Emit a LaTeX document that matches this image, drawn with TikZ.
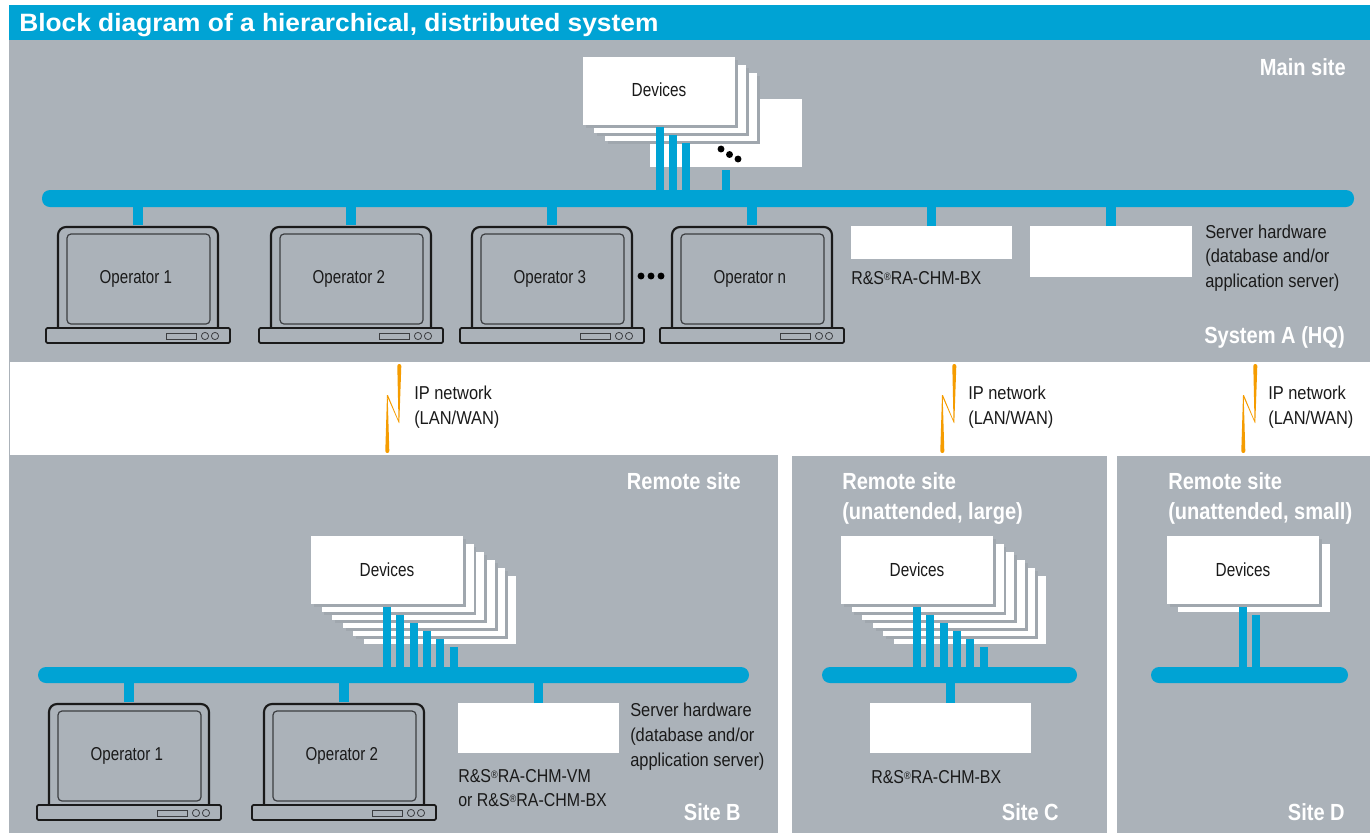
\documentclass[tikz,border=0pt]{standalone}
\usepackage{fontspec}
\setmainfont{Liberation Sans}
\newfontfamily\opf[FakeStretch=0.81]{Liberation Sans}
\newfontfamily\labf[FakeStretch=0.88]{Liberation Sans}
\newfontfamily\chmf[FakeStretch=0.855]{Liberation Sans}
\newfontfamily\boldf[FakeStretch=0.86]{Liberation Sans}
\newfontfamily\titlef[FakeStretch=1.05]{Liberation Sans}
\definecolor{sitegrey}{HTML}{ABB2B9}
\definecolor{cardshade}{HTML}{A0A7AE}
\definecolor{rsblue}{HTML}{00A3D4}
\definecolor{bolt}{HTML}{F59C00}
\definecolor{ink}{HTML}{1A1A1A}
\newcommand{\regd}{{\fontsize{8}{8}\selectfont\raisebox{3pt}{®}}}
\tikzset{
  x=0.75pt,y=-0.75pt,
  sized/.style 2 args={minimum width=#1*0.75pt,minimum height=#2*0.75pt,inner sep=0pt,outer sep=0pt},
  site/.style={fill=sitegrey,draw=none,anchor=north west},
  card/.style={fill=white,draw=none,anchor=north west,sized={152}{68}},
  devtext/.style={text=ink,inner sep=0pt,font=\opf\fontsize{14.2}{17}\selectfont},
  whitebox/.style={fill=white,draw=none,anchor=north west},
  bus/.style={fill=rsblue,draw=none,rounded corners=6pt,anchor=north west},
  bar/.style={draw=rsblue,line width=6pt},
  stub/.style={draw=rsblue,line width=6.8pt,shorten <=1.2pt},
  lid/.style={anchor=north west,sized={160}{101}},
  lidline/.style={draw=ink,line width=1.6pt,rounded corners=6pt},
  screen/.style={anchor=north west,sized={143}{90},text=ink,font=\opf\fontsize{14}{17}\selectfont},
  screenline/.style={draw=black!65!sitegrey,line width=0.9pt,rounded corners=3pt},
  lbase/.style={draw=ink,line width=1.3pt,rounded corners=1pt,anchor=north west,sized={184}{15}},
  ldetail/.style={draw=black!65!sitegrey,line width=0.6pt},
  lab/.style={text=ink,anchor=west,align=left,inner sep=0pt,font=\labf\fontsize{14}{18.5}\selectfont},
  chmlab/.style={text=ink,anchor=west,align=left,inner sep=0pt,font=\chmf\fontsize{14}{18.5}\selectfont},
  sitelab/.style={text=white,inner sep=0pt,align=left,font=\boldf\bfseries\fontsize{17.5}{22.5}\selectfont},
  dot/.style={fill=black,draw=none,circle,minimum size=5.2pt,inner sep=0pt},
  boltfill/.style={fill=bolt,draw=none}
}
\newcommand{\laptop}[4]{%
  \node[lid] (#1) at (#2,#3) {};
  \node[lbase] (#1base) at ($(#2,#3)+(-12,101)$) {};
  \draw[lidline] (#1.south west) -- (#1.north west) -- (#1.north east) -- (#1.south east);
  \node[screen] (#1scr) at ($(#2,#3)+(9,7)$) {\hspace*{-4pt}#4};
  \draw[screenline] (#1scr.south west) -- (#1scr.north west) -- (#1scr.north east) -- (#1scr.south east) -- cycle;
  \draw[ldetail] ($(#2,#3)+(108,106)$) rectangle ($(#2,#3)+(138,112)$);
  \draw[ldetail] ($(#2,#3)+(147,109)$) circle (2.7pt);
  \draw[ldetail] ($(#2,#3)+(157,109)$) circle (2.7pt);
}
\newcommand{\backcard}[3]{%
  \fill[cardshade] ($(#2,#3)+(2.7,2.7)$) rectangle ($(#2,#3)+(154.7,70.7)$);
  \node[card] (#1) at (#2,#3) {};
}
\newcommand{\devbolt}[1]{%
  \fill[boltfill] (#1+10,366) arc[start angle=180,end angle=0,radius=1.5pt] -- (#1+12,423) -- (#1+11.6,423) -- (#1+0.4,397.5) -- (#1+2,451) arc[start angle=0,end angle=-180,radius=1.5pt] -- (#1-0.3,395) -- (#1+0.6,395) -- (#1+11.2,420.5) -- cycle;
}
\usetikzlibrary{calc}
\begin{document}
\begin{tikzpicture}
\useasboundingbox (0,0) rectangle (1370,833);
\fill[white] (0,0) rectangle (1370,833);
% panels
\node[site,sized={1361}{322}] (siteA) at (9,40) {};
\node[site,sized={769}{378}] (siteB) at (9,455) {};
\node[site,sized={315}{377}] (siteC) at (792,456) {};
\node[site,sized={253}{377}] (siteD) at (1117,456) {};
\draw[sitegrey,line width=0.6pt] (siteA.south west) -- (siteB.north west);
\node[fill=rsblue,anchor=north west,sized={1361}{35}] (head) at (9,5) {};
\node[anchor=base west,inner sep=0pt,text=white,font=\titlef\bfseries\fontsize{18.8}{22}\selectfont] (title) at (19,31) {Block diagram of a hierarchical, distributed system};

% buses
\node[bus,sized={1312}{17}] (busA) at (42,190) {};
\node[bus,sized={711}{16}] (busB) at (38,667) {};
\node[bus,sized={255}{16}] (busC) at (822,667) {};
\node[bus,sized={197}{16}] (busD) at (1151,667) {};

% System A devices
\node[card] (a4) at (650,99) {};
\backcard{a3}{605}{73}
\backcard{a2}{594}{65}
\backcard{a1}{583}{57}
\node[devtext] (a1text) at (659,90) {Devices};
\node[dot] (ad1) at (721,149) {};
\node[dot] (ad2) at (729.5,154.5) {};
\node[dot] (ad3) at (738,159) {};
\coordinate (ab1) at (659.5,127); \coordinate (ab2) at (672.5,135);
\coordinate (ab3) at (686,143); \coordinate (ab4) at (726,170);
\foreach \n in {ab1,ab2,ab3,ab4} \draw[bar] (\n) -- (\n |- busA);

% System A laptops
\laptop{op1}{58}{227}{Operator 1}
\laptop{op2}{271}{227}{Operator 2}
\laptop{op3}{472}{227}{Operator 3}
\laptop{opn}{672}{227}{Operator n}
\foreach \n in {op1,op2,op3,opn} \draw[stub] (\n.north) -- (\n.north |- busA);
\node[dot] (od1) at (641,276) {};
\node[dot] (od2) at (651,276) {};
\node[dot] (od3) at (661,276) {};

% System A servers
\node[whitebox,sized={161}{33}] (chmA) at (851,226) {};
\node[whitebox,sized={162}{51}] (srvA) at (1030,226) {};
\draw[stub,shorten <=0pt] (chmA.north) -- (chmA.north |- busA);
\draw[stub,shorten <=0pt] (srvA.north) -- (srvA.north |- busA);
\node[chmlab] (chmAt) at (851,278) {R\&S\regd RA-CHM-BX};
\node[lab] (srvAt) at (1205,258) {Server hardware\\(database and/or\\application server)};

\node[sitelab,anchor=east] (lMain) at (1346,67) {Main site};
\node[sitelab,anchor=east] (lSysA) at (1345,337) {System A (HQ)};

% IP network
\devbolt{387.3}
\devbolt{942.3}
\devbolt{1243.3}
\node[lab] (ip1) at (414,407) {IP network\\(LAN/WAN)};
\node[lab] (ip2) at (968,407) {IP network\\(LAN/WAN)};
\node[lab] (ip3) at (1268,407) {IP network\\(LAN/WAN)};

% Site B
\node[card] (b6) at (364,576) {};
\backcard{b5}{353.4}{568}
\backcard{b4}{342.8}{560}
\backcard{b3}{332.2}{552}
\backcard{b2}{321.6}{544}
\backcard{b1}{311}{536}
\node[devtext] (b1text) at (387,570) {Devices};
\coordinate (bb1) at (387,607); \coordinate (bb2) at (400.3,615);
\coordinate (bb3) at (413.7,623); \coordinate (bb4) at (427,631);
\coordinate (bb5) at (440.3,639); \coordinate (bb6) at (453.5,647);
\foreach \n in {bb1,bb2,bb3,bb4,bb5,bb6} \draw[bar] (\n) -- (\n |- busB);
\laptop{bop1}{49}{704}{Operator 1}
\laptop{bop2}{264}{704}{Operator 2}
\foreach \n in {bop1,bop2} \draw[stub] (\n.north) -- (\n.north |- busB);
\node[whitebox,sized={161}{50}] (srvB) at (458,703) {};
\draw[stub,shorten <=0pt] (srvB.north) -- (srvB.north |- busB);
\node[lab] (srvBt) at (630,736.5) {Server hardware\\(database and/or\\application server)};
\node[chmlab] (chmBt) at (458,788) {R\&S\regd RA-CHM-VM\\or R\&S\regd RA-CHM-BX};
\node[sitelab,anchor=east] (lRemB) at (741,481) {Remote site};
\node[sitelab,anchor=east] (lSiteB) at (741,812) {Site B};

% Site C
\node[card] (c6) at (894,576) {};
\backcard{c5}{883.4}{568}
\backcard{c4}{872.8}{560}
\backcard{c3}{862.2}{552}
\backcard{c2}{851.6}{544}
\backcard{c1}{841}{536}
\node[devtext] (c1text) at (917,570) {Devices};
\coordinate (cb1) at (917,607); \coordinate (cb2) at (930.3,615);
\coordinate (cb3) at (943.7,623); \coordinate (cb4) at (957,631);
\coordinate (cb5) at (970.3,639); \coordinate (cb6) at (983.5,647);
\foreach \n in {cb1,cb2,cb3,cb4,cb5,cb6} \draw[bar] (\n) -- (\n |- busC);
\node[whitebox,sized={161}{50}] (srvC) at (870,703) {};
\draw[stub,shorten <=0pt] (srvC.north) -- (srvC.north |- busC);
\node[chmlab] (chmCt) at (871,777) {R\&S\regd RA-CHM-BX};
\node[sitelab,anchor=west] (lRemC) at (842,498.5) {Remote site\\(unattended, large)};
\node[sitelab,anchor=east] (lSiteC) at (1059,812) {Site C};

% Site D
\node[card] (d2) at (1178,544) {};
\backcard{d1}{1167}{536}
\node[devtext] (d1text) at (1243,570) {Devices};
\coordinate (db1) at (1243,607); \coordinate (db2) at (1256,615);
\foreach \n in {db1,db2} \draw[bar] (\n) -- (\n |- busD);
\node[sitelab,anchor=west] (lRemD) at (1168,498.5) {Remote site\\(unattended, small)};
\node[sitelab,anchor=east] (lSiteD) at (1345,812) {Site D};
\end{tikzpicture}
\end{document}
